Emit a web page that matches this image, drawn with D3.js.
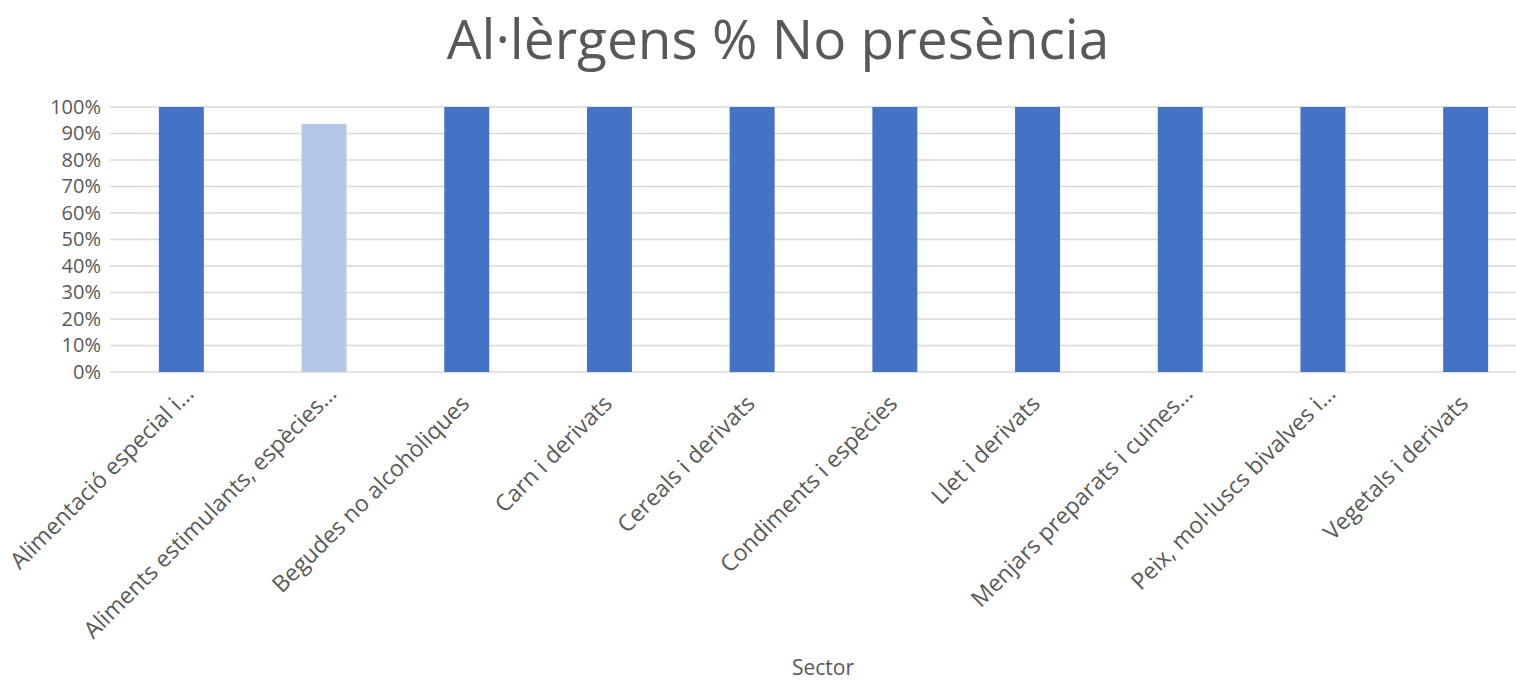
<!DOCTYPE html>
<html>
<head>
<meta charset="utf-8">
<script src="https://cdn.jsdelivr.net/npm/d3@7"></script>
<style>
  html, body { margin: 0; padding: 0; background: #fff; }
  svg { display: block; font-family: "Open Sans", "Noto Sans", sans-serif; }
</style>
</head>
<body>
<svg id="chart" width="1516" height="682"></svg>
<script>
// Sectors and share of samples with no allergen present
const categories = [
  "Alimentació especial i…",
  "Aliments estimulants, espècies…",
  "Begudes no alcohòliques",
  "Carn i derivats",
  "Cereals i derivats",
  "Condiments i espècies",
  "Llet i derivats",
  "Menjars preparats i cuines…",
  "Peix, mol·luscs bivalves i…",
  "Vegetals i derivats"
];
const values = [1.0, 0.936, 1.0, 1.0, 1.0, 1.0, 1.0, 1.0, 1.0, 1.0];
const highlighted = [false, true, false, false, false, false, false, false, false, false];
const yTicks = [0, 0.1, 0.2, 0.3, 0.4, 0.5, 0.6, 0.7, 0.8, 0.9, 1.0];

const svg = d3.select("#chart");
const plotLeft = 110, plotRight = 1537, plotTop = 107, plotBottom = 372;

const x = d3.scaleBand().domain(categories).range([plotLeft, plotRight]).paddingInner(0.685).paddingOuter(0.3425);
const y = d3.scaleLinear().domain([0, 1]).range([plotBottom, plotTop]);

// Title
svg.append("text")
  .attr("x", 778).attr("y", 59)
  .attr("text-anchor", "middle")
  .attr("font-size", 55)
  .attr("fill", "#595959")
  .text("Al·lèrgens % No presència");

// Gridlines
svg.append("g")
  .selectAll("line")
  .data(yTicks)
  .join("line")
  .attr("x1", plotLeft).attr("x2", plotRight)
  .attr("y1", d => y(d)).attr("y2", d => y(d))
  .attr("stroke", "#d9d9d9")
  .attr("stroke-width", 1.5);

// Y axis labels
const yAxis = d3.axisLeft(y).tickValues(yTicks).tickFormat(d3.format(".0%")).tickSize(0).tickPadding(9);
svg.append("g")
  .attr("transform", `translate(${plotLeft},0)`)
  .call(yAxis)
  .call(g => g.select(".domain").remove())
  .call(g => g.selectAll("text")
    .attr("font-family", "'Open Sans', sans-serif")
    .attr("font-size", 20)
    .attr("fill", "#595959"));

// Bars
svg.append("g")
  .selectAll("rect")
  .data(categories)
  .join("rect")
  .attr("x", d => x(d))
  .attr("width", x.bandwidth())
  .attr("y", (d, i) => y(values[i]))
  .attr("height", (d, i) => y(0) - y(values[i]))
  .attr("fill", (d, i) => highlighted[i] ? "#b4c7e7" : "#4472c4");

// X axis labels, rotated; truncated labels overhang a little further
const xAxis = d3.axisBottom(x).tickSize(0).tickPadding(0);
svg.append("g")
  .attr("transform", `translate(0,${plotBottom})`)
  .call(xAxis)
  .call(g => g.select(".domain").remove())
  .call(g => g.selectAll("text")
    .attr("font-family", "'Open Sans', sans-serif")
    .attr("font-size", 23)
    .attr("fill", "#595959")
    .attr("text-anchor", "end")
    .attr("y", 0)
    .attr("dy", null)
    .attr("dx", d => d.endsWith("…") ? 14 : 0)
    .attr("transform", "translate(4,33) rotate(-45)"));

// Axis title
svg.append("text")
  .attr("x", 823).attr("y", 675)
  .attr("text-anchor", "middle")
  .attr("font-size", 21)
  .attr("fill", "#595959")
  .text("Sector");
</script>
</body>
</html>
